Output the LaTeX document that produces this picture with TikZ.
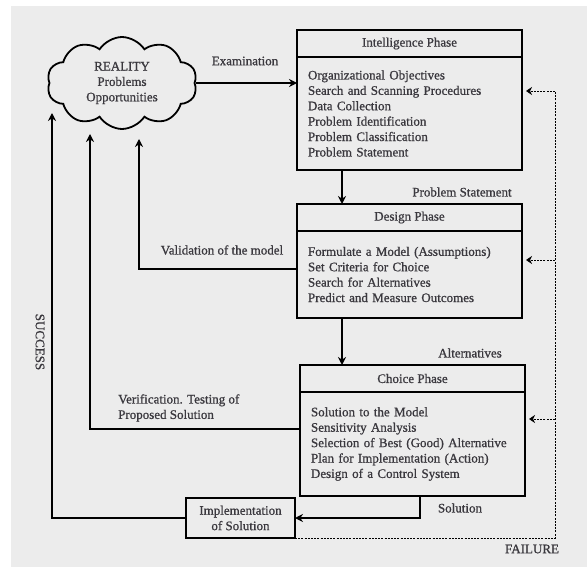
\documentclass[tikz,border=0pt]{standalone}
\usepackage{fontspec}
\setmainfont{Liberation Serif}[FakeBold=0.9]
\usetikzlibrary{shapes.symbols,arrows.meta}
\definecolor{panel}{RGB}{236,236,236}
\definecolor{ink}{RGB}{58,56,62}
\tikzset{
  every node/.style={font=\fontsize{13}{15.4}\selectfont, text=ink},
  arr/.style={line width=2.2pt, -{Stealth[length=8pt,width=8pt]}},
  fb/.style={line width=0.7pt, dash pattern=on 2pt off 1.2pt},
  fbarr/.style={fb, -{Stealth[length=6pt,width=8pt]}},
  phasehead/.style={draw=black, line width=2.4pt, minimum width=225pt, minimum height=27pt, anchor=north west, inner sep=0pt, outer sep=0pt},
  phasebody/.style={draw=black, line width=2.4pt, text width=203pt, inner xsep=11pt, inner ysep=0pt, outer sep=0pt, align=left, anchor=north west},
  lbl/.style={inner sep=0pt}
}
\begin{document}
\begin{tikzpicture}[x=1pt,y=-1pt]
\useasboundingbox (0,0) rectangle (587,567);
\fill[panel] (11,6) rectangle (587,567);

% cloud
\node[cloud, draw=black, line width=1.8pt, cloud puffs=10, cloud puff arc=115, aspect=1.7,
      minimum width=150pt, minimum height=92pt, align=center, inner sep=0pt, fill=panel] (cloud) at (122,83)
  {REALITY\\Problems\\Opportunities};

% phases
\node[phasehead] (ih) at (297,30) {Intelligence Phase};
\node[phasebody, minimum height=113pt] (ib) at (ih.south west) {Organizational Objectives\\Search and Scanning Procedures\\Data Collection\\Problem Identification\\Problem Classification\\Problem Statement};

\node[phasehead] (dh) at (297,204) {Design Phase};
\node[phasebody, minimum height=87pt] (db) at (dh.south west) {Formulate a Model (Assumptions)\\Set Criteria for Choice\\Search for Alternatives\\Predict and Measure Outcomes};

\node[phasehead] (ch) at (300,365) {Choice Phase};
\node[phasebody, minimum height=104pt] (cb) at (ch.south west) {Solution to the Model\\Sensitivity Analysis\\Selection of Best (Good) Alternative\\Plan for Implementation (Action)\\Design of a Control System};

\node[draw=black, line width=2.4pt, minimum width=109pt, minimum height=40pt, align=center, inner sep=0pt, outer sep=0pt] (impl) at (240.5,518)
  {Implementation\\of Solution};

% main flow
\draw[arr] (cloud.east) -- (cloud.east -| ib.west);
\draw[arr] ([xshift=45pt]ib.south west) -- ([xshift=45pt]dh.north west);
\draw[arr] ([xshift=45pt]db.south west) -- ([xshift=42pt]ch.north west);
\coordinate (sol) at (420,520);
\draw[arr] (cb.south -| sol) |- (impl.east);

% returns to reality
\coordinate (succ) at (52,113);
\coordinate (verif) at (90,134);
\coordinate (valid) at (139,139);
\draw[arr] (impl.west) -| (succ);
\draw[arr] ([yshift=-37pt]cb.north west) -| (verif);
\draw[arr] ([yshift=-38pt]db.north west) -| (valid);

% failure feedback
\coordinate (f1) at (555,91);
\coordinate (f2) at (555,260);
\coordinate (f3) at (555,419);
\draw[fb] (impl.south east) -| (f1);
\draw[fbarr] (f1) -- ([xshift=4pt]f1 -| ib.east);
\draw[fbarr] (f2) -- ([xshift=4pt]f2 -| db.east);
\draw[fbarr] (f3) -- ([xshift=4pt]f3 -| cb.east);

% labels
\node[lbl] (lexam) at (245,61) {Examination};
\node[lbl] (lprob) at (462,192) {Problem Statement};
\node[lbl] (lalt) at (470,353) {Alternatives};
\node[lbl] (lsol) at (460,508) {Solution};
\node[lbl] (lfail) at (532,549) {FAILURE};
\node[lbl] (lvalid) at (222,250) {Validation of the model};
\node[lbl, anchor=west, align=left] (lverif) at (118,408) {Verification. Testing of\\Proposed Solution};
\node[lbl, rotate=-90] (lsucc) at (40,342) {SUCCESS};
\end{tikzpicture}
\end{document}
